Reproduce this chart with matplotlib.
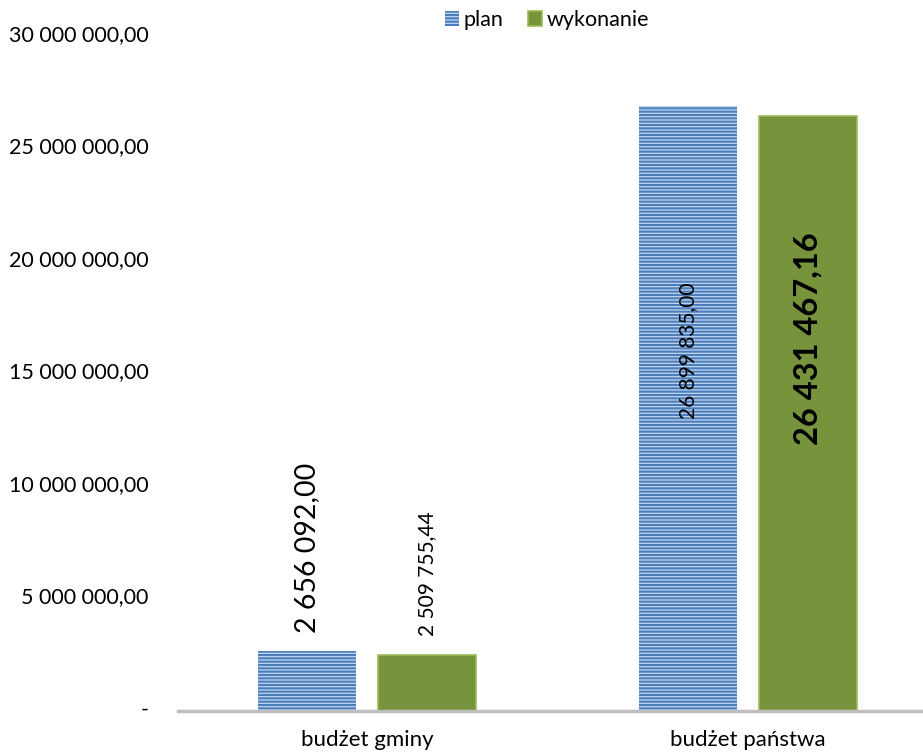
import matplotlib.pyplot as plt
import matplotlib.transforms as mtransforms
import numpy as np

categories = ["budżet gminy", "budżet państwa"]
plan = [2656092.00, 26899835.00]
wykonanie = [2509755.44, 26431467.16]
plan_labels = ["2 656 092,00", "26 899 835,00"]
wyk_labels = ["2 509 755,44", "26 431 467,16"]
yticks = [0, 5e6, 10e6, 15e6, 20e6, 25e6, 30e6]
ytick_labels = ["-", "5 000 000,00", "10 000 000,00", "15 000 000,00",
                "20 000 000,00", "25 000 000,00", "30 000 000,00"]

plt.rcParams['font.family'] = ['Lato', 'DejaVu Sans']
plt.rcParams['hatch.linewidth'] = 1.5

fig = plt.figure(figsize=(9.23, 7.55), dpi=100)
ax = fig.add_axes([178 / 923, 1 - 711 / 755, 745 / 923, 675 / 755])

x = np.arange(len(categories))
w = 0.258
off = 0.158
b1 = ax.bar(x - off, plan, w, color='#c3d4ee', edgecolor='#4a7ebb', hatch='-----',
            linewidth=0, label='plan')
b2 = ax.bar(x + off, wykonanie, w, color='#77933c', edgecolor='#9bbb59',
            linewidth=1.2, label='wykonanie')

# etykiety danych
ax.annotate(plan_labels[0], (x[0] - off, plan[0]), xytext=(0, 13), textcoords='offset points',
            rotation=90, ha='center', va='bottom', fontsize=20.5)
ax.annotate(wyk_labels[0], (x[0] + off, wykonanie[0]), xytext=(0, 13), textcoords='offset points',
            rotation=90, ha='center', va='bottom', fontsize=15)
ax.text(x[1] - off, 16.0e6, plan_labels[1], rotation=90, ha='center', va='center', fontsize=15)
ax.text(x[1] + off, 16.55e6, wyk_labels[1], rotation=90, ha='center', va='center',
        fontsize=23.5, fontweight='bold')

ax.set_xlim(-0.497, 1.46)
ax.set_ylim(0, 30e6)
ax.set_xticks(x)
ax.set_xticklabels(categories, fontsize=16)
ax.set_yticks(yticks)
ax.set_yticklabels(ytick_labels, fontsize=15.5, va='center_baseline')
ax.tick_params(axis='both', length=0)
ax.tick_params(axis='y', pad=21)
ax.tick_params(axis='x', pad=14)
# lekko w gore, jak w oryginale
shift = mtransforms.ScaledTranslation(0, 3 / 100, fig.dpi_scale_trans)
for lab in ax.get_yticklabels():
    lab.set_transform(lab.get_transform() + shift)
for s in ['top', 'right', 'left']:
    ax.spines[s].set_visible(False)
ax.spines['bottom'].set_color('#bfbfbf')
ax.spines['bottom'].set_linewidth(2.5)

fig.legend(handles=[b1, b2], loc='center', bbox_to_anchor=(547 / 923, 1 - 20 / 755),
           ncol=2, frameon=False, fontsize=15.5, handlelength=0.65, handleheight=0.65,
           handletextpad=0.25, columnspacing=1.1)

fig.savefig('out.png', dpi=100)
